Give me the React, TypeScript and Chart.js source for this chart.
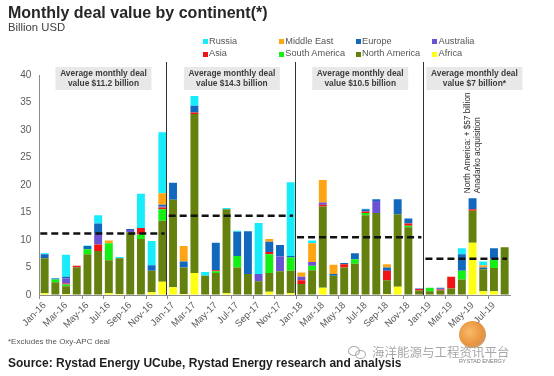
import React, { useEffect, useRef } from 'react';
import { Chart, registerables } from 'chart.js';

Chart.register(...registerables);

const months = [
  'Jan-16', 'Feb-16', 'Mar-16', 'Apr-16', 'May-16', 'Jun-16', 'Jul-16', 'Aug-16', 'Sep-16', 'Oct-16', 'Nov-16', 'Dec-16',
  'Jan-17', 'Feb-17', 'Mar-17', 'Apr-17', 'May-17', 'Jun-17', 'Jul-17', 'Aug-17', 'Sep-17', 'Oct-17', 'Nov-17', 'Dec-17',
  'Jan-18', 'Feb-18', 'Mar-18', 'Apr-18', 'May-18', 'Jun-18', 'Jul-18', 'Aug-18', 'Sep-18', 'Oct-18', 'Nov-18', 'Dec-18',
  'Jan-19', 'Feb-19', 'Mar-19', 'Apr-19', 'May-19', 'Jun-19', 'Jul-19', 'Aug-19',
];

// Billion USD, stacked bottom to top
const africa = [
  0.3, 0, 0.2, 0, 0, 0, 0.3, 0.2, 0, 0, 0.5, 2.4,
  1.4, 0.2, 4.0, 0, 0, 0.3, 0, 0, 0, 0.6, 0, 0.3,
  0, 0, 1.3, 0, 0, 0, 0, 0, 0.2, 1.5, 0, 0,
  0, 0, 0, 0, 9.5, 0.7, 0.7, 0,
];
const northAmerica = [
  6.4, 2.3, 1.4, 5.0, 7.4, 8.0, 6.0, 6.5, 11.4, 10.2, 3.9, 11.1,
  15.9, 4.8, 28.9, 3.5, 4.0, 15.3, 5.0, 3.8, 2.5, 3.4, 4.3, 4.1,
  2.0, 4.5, 14.8, 3.5, 5.0, 5.7, 14.5, 14.9, 2.5, 13.2, 12.3, 0.8,
  0.7, 0.8, 1.2, 2.8, 5.8, 4.0, 4.2, 8.7,
];
const southAmerica = [
  0, 0.5, 0.3, 0, 0.9, 0, 3.1, 0, 0, 0.8, 0, 2.1,
  0, 0, 0, 0, 0.3, 0, 2.1, 0, 0, 3.4, 0, 2.4,
  0, 0.8, 0, 0, 0, 0.8, 0.4, 0, 0, 0, 0.3, 0,
  0.6, 0, 0, 1.6, 0, 0, 1.6, 0,
];
const asia = [
  0, 0, 0.2, 0.3, 0, 1.2, 0, 0, 0, 1.2, 0, 0.3,
  0, 0, 0.3, 0, 0.2, 0, 0, 0, 0, 0.4, 0, 0,
  0.7, 0, 0.3, 0, 0.6, 0, 0.3, 0, 1.7, 0, 0.4, 0.3,
  0, 0.2, 2.1, 0, 0.3, 0, 0.1, 0,
];
const australia = [
  0, 0, 0.9, 0, 0, 2.0, 0, 0, 0.4, 0, 0, 0.2,
  0, 0, 0, 0, 0, 0, 0, 0, 1.3, 0, 2.7, 0,
  0.6, 0.7, 0.4, 0, 0, 0, 0, 2.2, 0, 0, 0, 0,
  0, 0.15, 0, 0, 0, 0, 0, 0,
];
const europe = [
  0.7, 0.2, 0.3, 0, 0.6, 1.8, 0, 0, 0.2, 0, 1.0, 0.3,
  3.1, 1.1, 1.2, 0, 5.0, 0, 4.4, 7.8, 0, 1.9, 2.1, 0.3,
  0, 0, 0, 0.3, 0.2, 1.1, 0.4, 0.3, 0.6, 2.7, 0.9, 0.1,
  0, 0.15, 0, 3.0, 2.0, 0.3, 1.9, 0,
];
const middleEast = [
  0, 0, 0, 0, 0, 0, 0.5, 0, 0, 0, 0, 2.1,
  0, 2.8, 0, 0, 0, 0, 0, 0, 0, 0.5, 0, 0,
  0.8, 3.4, 4.1, 1.7, 0, 0, 0, 0, 0.6, 0, 0, 0,
  0, 0, 0, 0, 0, 0.4, 0, 0,
];
const russia = [
  0.2, 0.1, 4.0, 0, 0.1, 1.5, 0, 0.2, 0, 6.2, 4.4, 11.1,
  0, 0, 1.8, 0.7, 0, 0.2, 0.2, 0, 9.3, 0, 0, 13.4,
  0, 0.5, 0, 0, 0, 0, 0.1, 0, 0, 0, 0, 0,
  0, 0, 0, 1.1, 0, 0.7, 0, 0,
];

const yearAverages = [11.2, 14.4, 10.5, 6.6];
const yearNoteLine1 = 'Average monthly deal';
const yearNoteLine2 = ['value $11.2 billion', 'value $14.3 billion', 'value $10.5 billion', 'value $7 billion*'];
const anadarkoNote = ['North America: + $57 billion', 'Anadarko acquisition'];
const anadarkoMonth = 40;

const yMax = 40;
const yStep = 5;

const FONT = '"Liberation Sans", Arial, sans-serif';

const seriesDefs = [
  { name: 'Africa', data: africa, color: '#ffff14' },
  { name: 'North America', data: northAmerica, color: '#64800f' },
  { name: 'South America', data: southAmerica, color: '#14f014' },
  { name: 'Asia', data: asia, color: '#f01414' },
  { name: 'Australia', data: australia, color: '#6a52d2' },
  { name: 'Europe', data: europe, color: '#1268bd' },
  { name: 'Middle East', data: middleEast, color: '#ffa514' },
  { name: 'Russia', data: russia, color: '#16ecfa' },
];

const legendRows = [
  ['Russia', 'Middle East', 'Europe', 'Australia'],
  ['Asia', 'South America', 'North America', 'Africa'],
];
const legendCols = [202.7, 279, 355.7, 432.3];

const overlayPlugin = {
  id: 'overlay',
  afterDatasetsDraw(chart: any) {
    const { ctx, scales, chartArea } = chart;
    const x = scales.x;
    const y = scales.y;
    const cw = x.getPixelForValue(1) - x.getPixelForValue(0);
    const edge = (i: number) => x.getPixelForValue(i) - cw / 2;
    ctx.save();

    // year separators
    ctx.strokeStyle = '#333333';
    ctx.lineWidth = 1;
    ctx.setLineDash([]);
    [12, 24, 36].forEach((b) => {
      const px = Math.round(edge(b) - 1.5) + 0.5;
      ctx.beginPath();
      ctx.moveTo(px, 62);
      ctx.lineTo(px, chartArea.bottom);
      ctx.stroke();
    });

    // average dashed lines
    ctx.strokeStyle = '#111111';
    ctx.lineWidth = 2.5;
    ctx.setLineDash([7, 4]);
    yearAverages.forEach((avg, k) => {
      const start = k * 12;
      const end = Math.min(start + 12, months.length);
      const py = y.getPixelForValue(avg);
      ctx.beginPath();
      ctx.moveTo(edge(start) + 1, py);
      ctx.lineTo(edge(end) - 3, py);
      ctx.stroke();
    });
    ctx.setLineDash([]);

    // annotation boxes
    yearAverages.forEach((_, k) => {
      const start = k * 12;
      const end = Math.min(start + 12, months.length);
      const w = 96;
      let left = (edge(start) + edge(end)) / 2 - w / 2;
      if (k === 3) left = edge(start) + 2;
      const top = 67;
      const h = 23;
      ctx.fillStyle = '#e8e8e8';
      ctx.fillRect(left, top, w, h);
      ctx.fillStyle = '#3c3c3c';
      ctx.font = `bold 8.4px ${FONT}`;
      ctx.textAlign = 'center';
      ctx.textBaseline = 'middle';
      ctx.fillText(yearNoteLine1, left + w / 2, top + 6.5);
      ctx.fillText(yearNoteLine2[k], left + w / 2, top + 16.5);
    });

    // Anadarko vertical note
    const cx = x.getPixelForValue(anadarkoMonth);
    let total = 0;
    chart.data.datasets.forEach((ds: any) => { total += ds.data[anadarkoMonth]; });
    const startY = y.getPixelForValue(total) - 5;
    ctx.fillStyle = '#2a2a2a';
    ctx.font = `8.2px ${FONT}`;
    ctx.textAlign = 'left';
    ctx.textBaseline = 'middle';
    ctx.save();
    ctx.translate(cx - 4.5, startY);
    ctx.rotate(-Math.PI / 2);
    ctx.fillText(anadarkoNote[0], 0, 0);
    ctx.restore();
    ctx.save();
    ctx.translate(cx + 5.5, startY);
    ctx.rotate(-Math.PI / 2);
    ctx.fillText(anadarkoNote[1], 0, 0);
    ctx.restore();

    ctx.restore();
  },
};

function ChartCanvas() {
  const ref = useRef<HTMLCanvasElement | null>(null);
  useEffect(() => {
    if (!ref.current) return;
    const chart = new Chart(ref.current, {
      type: 'bar',
      data: {
        labels: months,
        datasets: seriesDefs.map((s) => ({
          label: s.name,
          data: s.data,
          backgroundColor: s.color,
          borderWidth: 0,
          barPercentage: 0.74,
          categoryPercentage: 1,
        })),
      },
      options: {
        animation: false,
        responsive: false,
        layout: { padding: { left: 0, right: 44, top: 75, bottom: 0 } },
        plugins: { legend: { display: false }, tooltip: { enabled: false }, title: { display: false } },
        scales: {
          x: {
            stacked: true,
            offset: true,
            grid: {
              display: true,
              drawOnChartArea: false,
              offset: true,
              tickLength: 4,
              color: (c: any) => (c.index % 2 === 0 ? '#8c8c8c' : 'rgba(0,0,0,0)'),
            },
            border: { display: true, color: '#8c8c8c' },
            ticks: {
              autoSkip: false,
              minRotation: 45,
              maxRotation: 45,
              padding: 1,
              color: '#595959',
              font: { family: FONT, size: 9.5 },
              callback: (_v: any, i: number) => (i % 2 === 0 ? months[i] : ''),
            },
            afterFit: (s: any) => { s.height = 81; },
          },
          y: {
            stacked: true,
            min: 0,
            max: yMax,
            grid: { display: true, drawOnChartArea: false, drawTicks: false, color: 'rgba(0,0,0,0)' },
            border: { display: true, color: '#8c8c8c' },
            ticks: { stepSize: yStep, padding: 8, color: '#595959', font: { family: FONT, size: 10 } },
            afterFit: (s: any) => { s.width = 39.3; },
          },
        },
      },
      plugins: [overlayPlugin],
    });
    return () => chart.destroy();
  }, []);
  return <canvas ref={ref} width={554} height={376} style={{ position: 'absolute', left: 0, top: 0, width: 554, height: 376 }} />;
}

const txt = (size: number, baseline: number): React.CSSProperties => ({
  position: 'absolute',
  top: baseline - 0.8465 * size,
  fontSize: size,
  lineHeight: `${size}px`,
  whiteSpace: 'nowrap',
  fontFamily: FONT,
});

export default function App() {
  const colorOf = (n: string) => seriesDefs.find((s) => s.name === n)!.color;
  return (
    <div style={{ position: 'absolute', left: 0, top: 0, width: 554, height: 376, background: '#fff', overflow: 'hidden' }}>
      <ChartCanvas />
      <div style={{ ...txt(16, 18.8), left: 8, fontWeight: 'bold', color: '#262626' }}>Monthly deal value by continent(*)</div>
      <div style={{ ...txt(11.3, 31.7), left: 8, color: '#404040' }}>Billion USD</div>
      {legendRows.map((row, r) =>
        row.map((name, c) => (
          <React.Fragment key={name}>
            <div style={{ position: 'absolute', left: legendCols[c], top: r === 0 ? 39.2 : 51.5, width: 5, height: 5, background: colorOf(name) }} />
            <div style={{ ...txt(9.2, r === 0 ? 44.3 : 56.4), left: legendCols[c] + 6.3, color: '#555' }}>{name}</div>
          </React.Fragment>
        ))
      )}
      <div style={{ ...txt(8, 345), left: 8, color: '#555' }}>*Excludes the Oxy-APC deal</div>
      <div style={{ ...txt(12, 367.3), left: 8, fontWeight: 'bold', color: '#1e1e1e' }}>Source: Rystad Energy UCube, Rystad Energy research and analysis</div>
      <div style={{ position: 'absolute', left: 459, top: 321, width: 27, height: 27, borderRadius: '50%', background: 'radial-gradient(circle at 40% 40%, #f7b45a 0%, #e8892a 55%, #9a9a9a 100%)', opacity: 0.9 }} />
      <div style={{ ...txt(5.5, 364), left: 459, color: '#777' }}>RYSTAD ENERGY</div>
      <div style={{ position: 'absolute', left: 348, top: 346, width: 10, height: 8, border: '1.5px solid #aaa', borderRadius: '50%' }} />
      <div style={{ position: 'absolute', left: 355, top: 350, width: 9, height: 7, border: '1.5px solid #aaa', borderRadius: '50%' }} />
      <div style={{ ...txt(12.5, 357), left: 372, color: '#a8a8a8', fontFamily: '"Noto Sans CJK SC", sans-serif' }}>海洋能源与工程资讯平台</div>
    </div>
  );
}
